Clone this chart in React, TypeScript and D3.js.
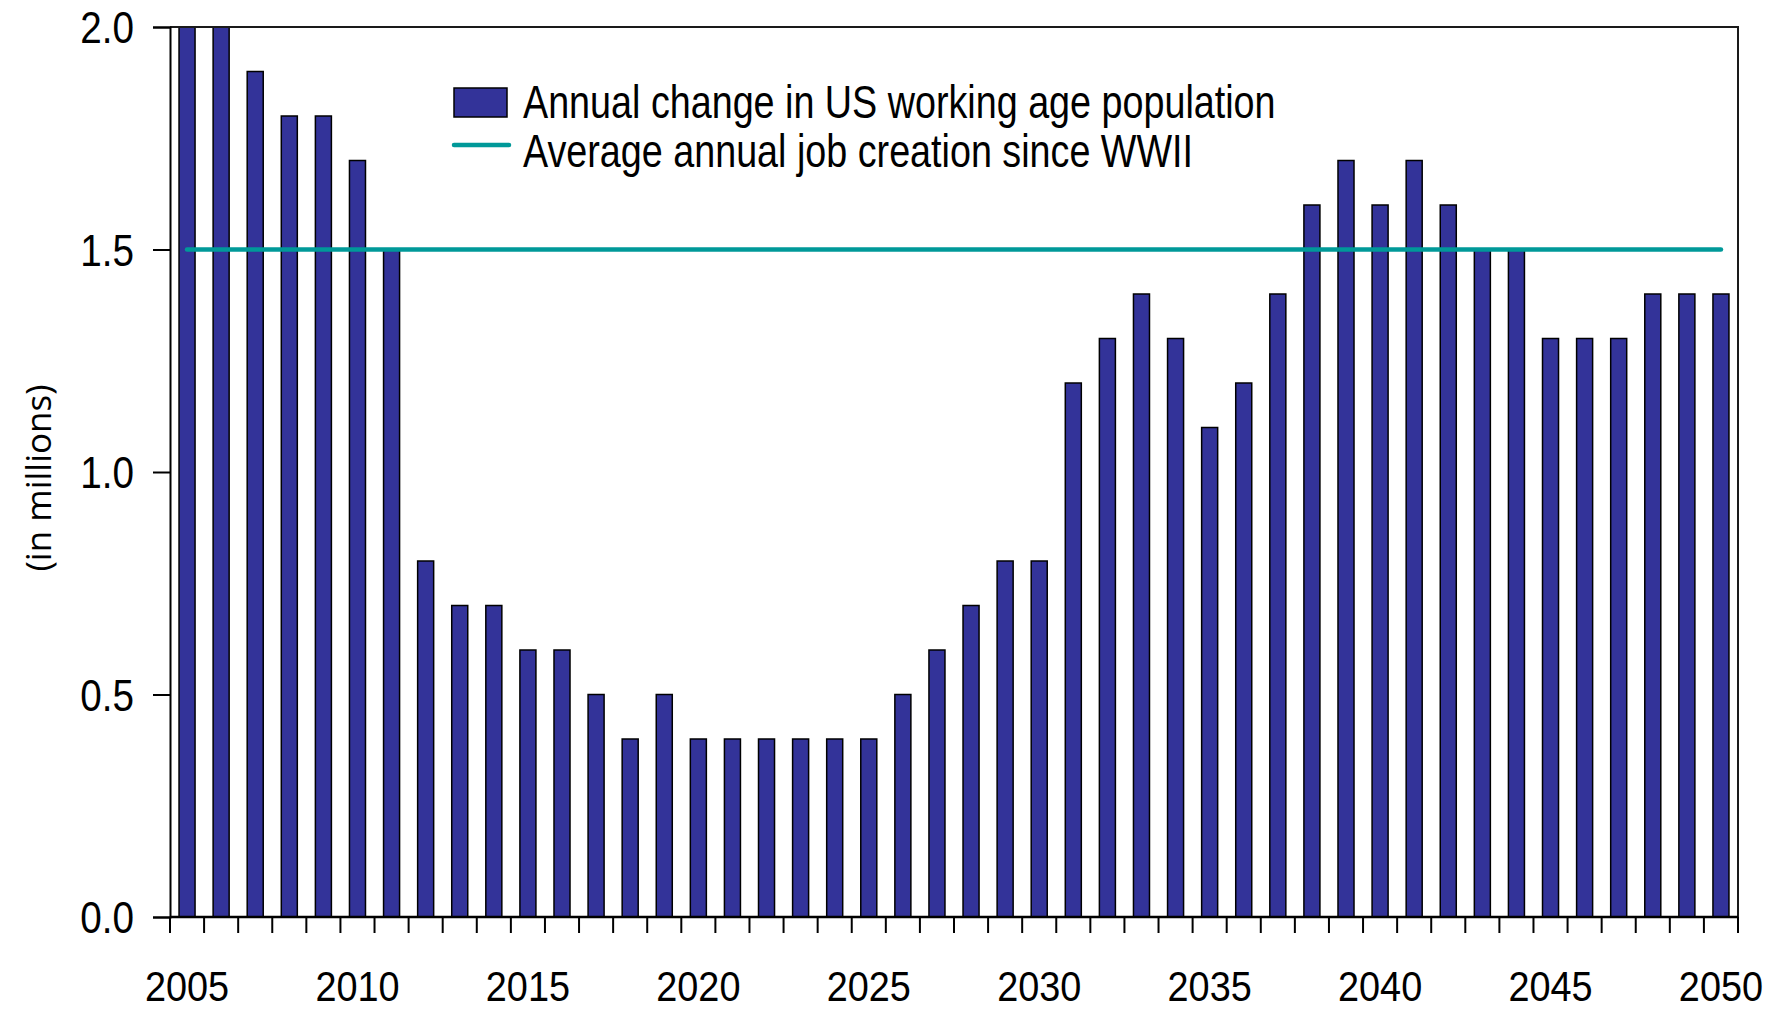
import React, { useEffect, useRef } from 'react';
import * as d3 from 'd3';

const years = d3.range(2005, 2051).map(String);
const workingAgeChange = [
    2.0, 2.0, 1.9, 1.8, 1.8, 1.7, 1.5, 0.8, 0.7, 0.7,
    0.6, 0.6, 0.5, 0.4, 0.5, 0.4, 0.4, 0.4, 0.4, 0.4,
    0.4, 0.5, 0.6, 0.7, 0.8, 0.8, 1.2, 1.3, 1.4, 1.3,
    1.1, 1.2, 1.4, 1.6, 1.7, 1.6, 1.7, 1.6, 1.5, 1.5,
    1.3, 1.3, 1.3, 1.4, 1.4, 1.4,
];
const avgJobCreation = 1.5;
const yTicks = [0, 0.5, 1.0, 1.5, 2.0];
const xLabels = ['2005', '2010', '2015', '2020', '2025', '2030', '2035', '2040', '2045', '2050'];
const legendLabels = ['Annual change in US working age population', 'Average annual job creation since WWII'];

const width = 1784;
const height = 1010;
const font = '"Liberation Sans", Arial, sans-serif';

export default function App() {
    const ref = useRef(null);

    useEffect(() => {
        const svg = d3.select(ref.current);
        svg.selectAll('*').remove();

        const marginLeft = 170;
        const marginRight = 46;
        const marginTop = 27;
        const marginBottom = 93;

        const x = d3.scaleBand()
            .domain(years)
            .range([marginLeft, width - marginRight])
            .paddingInner(0.53)
            .paddingOuter(0.265);
        const step = x.step();
        const center = (d: string) => (x(d) as number) + x.bandwidth() / 2;
        const y = d3.scaleLinear()
            .domain([0, 2])
            .range([height - marginBottom, marginTop]);

        // the original uses a condensed face, so squeeze the text horizontally
        const label = (parent: any, tx: number, ty: number, txt: string, size: number, anchor: string, squeeze: number) => {
            parent.append('g')
                .attr('transform', `translate(${tx},${ty}) scale(${squeeze},1)`)
                .append('text')
                  .attr('text-anchor', anchor)
                  .attr('font-family', font)
                  .attr('font-size', size)
                  .attr('fill', '#000')
                  .text(txt);
        };

        // bars
        svg.append('g')
            .selectAll('rect')
            .data(workingAgeChange)
            .enter()
            .append('rect')
              .attr('x', (_d, i) => x(years[i]) as number)
              .attr('y', d => y(d))
              .attr('width', x.bandwidth())
              .attr('height', d => y(0) - y(d))
              .attr('fill', '#333399')
              .attr('stroke', '#000')
              .attr('stroke-width', 1.5);

        // frame: top and right
        svg.append('path')
            .attr('fill', 'none')
            .attr('stroke', '#1a1a1a')
            .attr('stroke-width', 2)
            .attr('d', `M${marginLeft},${marginTop}H${width - marginRight}V${y(0)}`);

        // average line
        svg.append('line')
            .attr('x1', center(years[0]))
            .attr('x2', center(years[years.length - 1]))
            .attr('y1', y(avgJobCreation))
            .attr('y2', y(avgJobCreation))
            .attr('stroke', '#009999')
            .attr('stroke-width', 4.5)
            .attr('stroke-linecap', 'round');

        // y axis
        const yAxis = svg.append('g')
            .attr('transform', `translate(${marginLeft}, 0)`)
            .call(d3.axisLeft(y)
                .tickValues(yTicks)
                .tickFormat(() => '')
                .tickSize(17));
        yAxis.select('.domain').attr('stroke-width', 2);
        yAxis.selectAll('line').attr('stroke-width', 2);
        yTicks.forEach(t => label(svg, 134, y(t) + 16, d3.format('.1f')(t), 45, 'end', 0.86));

        // x axis: ticks at band boundaries, labels every 5 years
        const xAxisG = svg.append('g')
            .attr('transform', `translate(0, ${y(0)})`);
        xAxisG.append('line')
            .attr('x1', marginLeft)
            .attr('x2', width - marginRight)
            .attr('stroke', '#000')
            .attr('stroke-width', 2.5);
        xAxisG.selectAll('.tick')
            .data(d3.range(years.length + 1))
            .enter()
            .append('line')
              .attr('x1', i => marginLeft + i * step)
              .attr('x2', i => marginLeft + i * step)
              .attr('y1', 0)
              .attr('y2', 16)
              .attr('stroke', '#000')
              .attr('stroke-width', 2);
        xLabels.forEach(d => label(xAxisG, center(d), 84, d, 43, 'middle', 0.88));

        // y title
        svg.append('text')
            .attr('transform', `translate(51, ${(y(0) + y(2)) / 2 + 6}) rotate(-90)`)
            .attr('text-anchor', 'middle')
            .attr('font-family', '"Open Sans", "Noto Sans", sans-serif')
            .attr('font-size', 35)
            .attr('fill', '#000')
            .text('(in millions)');

        // legend
        const legend = svg.append('g').attr('transform', 'translate(454, 88)');
        legend.append('rect')
            .attr('width', 53)
            .attr('height', 29)
            .attr('fill', '#333399')
            .attr('stroke', '#000')
            .attr('stroke-width', 1.5);
        legend.append('line')
            .attr('x1', 0)
            .attr('x2', 55)
            .attr('y1', 57)
            .attr('y2', 57)
            .attr('stroke', '#009999')
            .attr('stroke-width', 4.5)
            .attr('stroke-linecap', 'round');
        legendLabels.forEach((d, i) => label(legend, 69, 30 + i * 49, d, 46, 'start', 0.82));
    }, []);

    return (
        <svg ref={ref} width={width} height={height} viewBox={`0 0 ${width} ${height}`}
            style={{ position: 'absolute', left: 0, top: 0, background: '#fff' }}>
        </svg>
    );
}
